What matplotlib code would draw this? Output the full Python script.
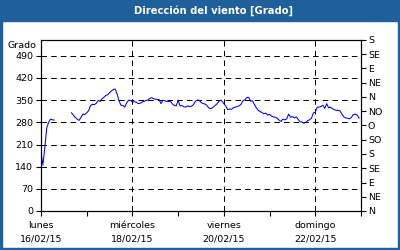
import numpy as np
import matplotlib.pyplot as plt
from matplotlib.patches import Rectangle

# ============================
# Data: hourly wind direction (degrees), starting lunes 16/02/15 00:00
# NaN = missing readings
# ============================
direction = [
    183, 145, 200, 262, 280, 290, 288, 287,
    np.nan, np.nan, np.nan, np.nan, np.nan, np.nan, np.nan, np.nan,
    310, 303, 295, 290, 286, 296, 306, 305,
    310, 317, 333, 337, 336, 340, 349, 346, 354, 359, 365, 367,
    374, 379, 384, 385, 368, 347, 334, 333, 328, 342, 350, 349,
    345, 345, 344, 339, 340, 344, 346, 349, 350, 355, 358, 355,
    353, 352, 352, 339, 350, 348, 346, 346, 346, 338, 333, 332,
    350, 332, 333, 329, 328, 332, 330, 331, 336, 346, 350, 350,
    343, 339, 338, 334, 326, 323, 326, 331, 336, 343, 350, 347,
    339, 331, 320, 322, 321, 326, 328, 330, 332, 337, 348, 351,
    358, 359, 347, 348, 337, 326, 318, 314, 311, 307, 309, 303,
    305, 300, 297, 296, 293, 287, 283, 290, 288, 291, 306, 296,
    298, 294, 297, 289, 282, 281, 277, 280, 285, 288, 293, 310,
    312, 328, 328, 330, 334, 324, 339, 326, 328, 323, 320, 318,
    318, 316, 306, 297, 294, 293, 291, 296, 305, 306, 303, 293,
]
hours = np.arange(len(direction))

day_ticks = [0, 48, 96, 144]
day_labels = ['lunes\n16/02/15', 'miércoles\n18/02/15',
              'viernes\n20/02/15', 'domingo\n22/02/15']
left_ticks = list(range(0, 491, 70))
compass_ticks = list(range(0, 541, 45))
compass_labels = ['N', 'NE', 'E', 'SE', 'S', 'SO', 'O', 'NO',
                  'N', 'NE', 'E', 'SE', 'S']

# ============================
# Figure layout (pixel based, 400x250)
# ============================
W, H = 400, 250
frame_blue = '#1f5f9a'
fs = 6.8

fig = plt.figure(figsize=(W / 100, H / 100), dpi=100)
fig.patch.set_facecolor('white')

# header band and frame
fig.add_artist(Rectangle((0, 1 - 21 / H), 1, 21 / H, transform=fig.transFigure,
                         color=frame_blue, zorder=0))
fig.add_artist(Rectangle((0, 0), 2 / W, 1, transform=fig.transFigure,
                         color=frame_blue, zorder=0))
fig.add_artist(Rectangle((1 - 2 / W, 0), 2 / W, 1, transform=fig.transFigure,
                         color=frame_blue, zorder=0))
fig.add_artist(Rectangle((0, 0), 1, 2 / H, transform=fig.transFigure,
                         color=frame_blue, zorder=0))

fig.text(213 / W, 1 - 10.5 / H, 'Dirección del viento [Grado]', color='white',
         fontsize=7.2, fontweight='bold', ha='center', va='center')
fig.text(36 / W, 1 - 46 / H, 'Grado', fontsize=fs, ha='right', va='center')

ax = fig.add_axes([41 / W, 1 - 211 / H, 320 / W, 171 / H])
ax.plot(hours, direction, color='#0000ff', lw=0.75, zorder=3)

ax.set_xlim(0, 168)
ax.set_ylim(0, 540)
ax.set_xticks(day_ticks)
ax.set_xticklabels(day_labels, fontsize=fs, linespacing=1.6)
ax.set_xticks(range(0, 169, 24), minor=True)
ax.set_yticks(left_ticks)
ax.set_yticklabels([str(v) for v in left_ticks], fontsize=fs)
ax.tick_params(axis='both', which='both', direction='out', length=3.5,
               width=0.8, pad=2)
ax.tick_params(axis='x', which='major', pad=4)

dash = (0, (5.5, 4.2))
ax.grid(True, which='major', color='black', lw=0.72, linestyle=dash)

for s in ax.spines.values():
    s.set_linewidth(0.8)

# right axis with compass points
ax2 = ax.twinx()
ax2.set_ylim(0, 540)
ax2.set_yticks(compass_ticks)
ax2.set_yticklabels(compass_labels, fontsize=fs)
ax2.tick_params(axis='y', direction='out', length=3.5, width=0.8, pad=1.5)
for s in ax2.spines.values():
    s.set_linewidth(0.8)

fig.savefig('out.png', dpi=100)
